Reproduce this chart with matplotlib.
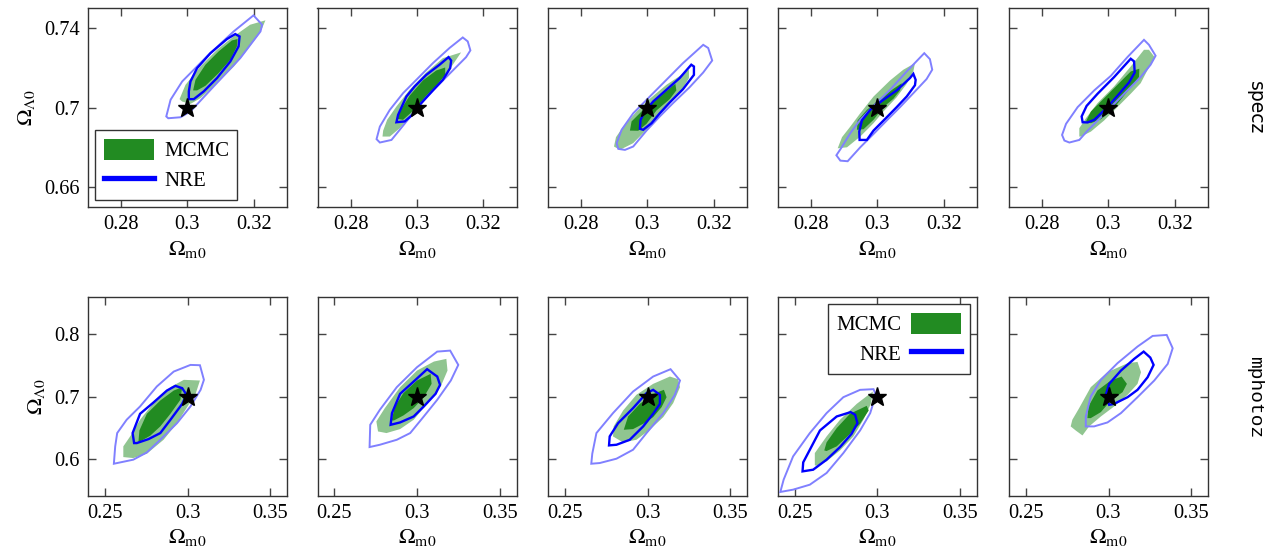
import numpy as np
import matplotlib
matplotlib.use('Agg')
import matplotlib.pyplot as plt
from matplotlib.patches import Polygon, Patch
from matplotlib.lines import Line2D

plt.rcParams['font.family'] = 'Liberation Serif'
plt.rcParams['mathtext.fontset'] = 'stix'

# valor verdadeiro dos parametros
truth = (0.3, 0.7)
row_names = ['specz', 'mphotoz']
row_fonts = ['DejaVu Sans', 'Liberation Mono']

xticks_top = [0.28, 0.3, 0.32]
yticks_top = [0.66, 0.7, 0.74]
xlim_top = (0.27, 0.33)
ylim_top = (0.65, 0.75)
xticks_bot = [0.25, 0.3, 0.35]
yticks_bot = [0.6, 0.7, 0.8]
xlim_bot = (0.24, 0.36)
ylim_bot = (0.54, 0.86)

# MCMC: regiao 95% (verde claro)
mcmc_outer = [
  [(0.2976,0.7042),(0.2994,0.7114),(0.3039,0.7206),(0.3089,0.7290),(0.3139,0.7357),(0.3189,0.7416),(0.3235,0.7438),
   (0.3225,0.7399),(0.3210,0.7357),(0.3180,0.7290),(0.3140,0.7206),(0.3089,0.7122),(0.3039,0.7047),(0.3009,0.7018),(0.2984,0.7030)],
  [(0.2896,0.6854),(0.2898,0.6884),(0.2910,0.6938),(0.2938,0.7005),(0.2978,0.7089),(0.3028,0.7176),(0.3078,0.7248),(0.3133,0.7277),
   (0.3118,0.7240),(0.3098,0.7190),(0.3068,0.7122),(0.3028,0.7047),(0.2988,0.6971),(0.2948,0.6896),(0.2918,0.6854)],
  [(0.2899,0.6804),(0.2905,0.6851),(0.2927,0.6904),(0.2967,0.6980),(0.3007,0.7044),(0.3057,0.7114),(0.3107,0.7169),(0.3125,0.7190),
   (0.3125,0.7148),(0.3107,0.7097),(0.3077,0.7039),(0.3037,0.6963),(0.2997,0.6888),(0.2957,0.6821),(0.2917,0.6787)],
  [(0.2880,0.6795),(0.2893,0.6851),(0.2918,0.6904),(0.2948,0.6971),(0.2988,0.7055),(0.3038,0.7136),(0.3078,0.7190),(0.3113,0.7223),
   (0.3108,0.7181),(0.3088,0.7119),(0.3058,0.7052),(0.3018,0.6980),(0.2988,0.6921),(0.2948,0.6854),(0.2908,0.6800)],
  [(0.2912,0.6854),(0.2912,0.6896),(0.2932,0.6946),(0.2967,0.7022),(0.3017,0.7106),(0.3067,0.7206),(0.3107,0.7290),(0.3122,0.7290),
   (0.3139,0.7253),(0.3117,0.7186),(0.3097,0.7122),(0.3067,0.7069),(0.3027,0.7002),(0.2987,0.6935),(0.2947,0.6879),(0.2917,0.6854)],
  [(0.2613,0.6026),(0.2613,0.6198),(0.2657,0.6369),(0.2714,0.6626),(0.2795,0.6893),(0.2897,0.7150),(0.2978,0.7268),(0.3075,0.7257),
   (0.3049,0.7043),(0.2998,0.6829),(0.2937,0.6572),(0.2856,0.6305),(0.2755,0.6080),(0.2673,0.6010)],
  [(0.2765,0.6438),(0.2755,0.6599),(0.2806,0.6813),(0.2898,0.7150),(0.3000,0.7417),(0.3102,0.7562),(0.3177,0.7605),
   (0.3184,0.7417),(0.3143,0.7161),(0.3061,0.6882),(0.2980,0.6626),(0.2898,0.6476),(0.2816,0.6412)],
  [(0.2792,0.6358),(0.2796,0.6519),(0.2853,0.6775),(0.2933,0.7027),(0.3034,0.7203),(0.3135,0.7321),(0.3185,0.7278),
   (0.3196,0.7150),(0.3155,0.6893),(0.3095,0.6668),(0.3014,0.6465),(0.2933,0.6304),(0.2853,0.6262)],
  [(0.2622,0.5893),(0.2622,0.6090),(0.2693,0.6358),(0.2774,0.6626),(0.2875,0.6882),(0.2972,0.7080),
   (0.2960,0.6882),(0.2915,0.6626),(0.2855,0.6358),(0.2774,0.6133),(0.2693,0.5957),(0.2632,0.5887)],
  [(0.2772,0.6519),(0.2782,0.6626),(0.2823,0.6813),(0.2893,0.7150),(0.2994,0.7391),(0.3115,0.7535),(0.3175,0.7556),
   (0.3196,0.7391),(0.3175,0.7203),(0.3115,0.7027),(0.3034,0.6840),(0.2954,0.6679),(0.2883,0.6519),(0.2843,0.6374),(0.2802,0.6454)],
]

# MCMC: regiao 68% (verde escuro)
mcmc_inner = [
  [(0.3017,0.7086),(0.3024,0.7139),(0.3054,0.7215),(0.3094,0.7282),(0.3134,0.7337),(0.3151,0.7344),
   (0.3149,0.7307),(0.3129,0.7240),(0.3094,0.7173),(0.3054,0.7109),(0.3029,0.7086)],
  [(0.2941,0.6943),(0.2948,0.6980),(0.2978,0.7060),(0.3018,0.7136),(0.3058,0.7186),(0.3085,0.7201),
   (0.3085,0.7164),(0.3058,0.7109),(0.3020,0.7039),(0.2988,0.6983),(0.2958,0.6938)],
  [(0.2947,0.6884),(0.2952,0.6930),(0.2987,0.6988),(0.3037,0.7055),(0.3084,0.7119),
   (0.3087,0.7086),(0.3067,0.7042),(0.3027,0.6985),(0.2997,0.6918),(0.2972,0.6883)],
  [(0.2938,0.6888),(0.2940,0.6935),(0.2968,0.6988),(0.3008,0.7044),(0.3048,0.7094),(0.3073,0.7122),
   (0.3068,0.7086),(0.3048,0.7044),(0.3018,0.7002),(0.2988,0.6938),(0.2958,0.6891)],
  [(0.2932,0.6930),(0.2947,0.6980),(0.2987,0.7047),(0.3027,0.7114),(0.3067,0.7181),(0.3093,0.7195),
   (0.3092,0.7153),(0.3067,0.7102),(0.3037,0.7039),(0.3007,0.6980),(0.2977,0.6941),(0.2947,0.6921)],
  [(0.2704,0.6267),(0.2710,0.6454),(0.2755,0.6722),(0.2836,0.6936),(0.2917,0.7096),(0.2968,0.7150),
   (0.2957,0.6947),(0.2897,0.6722),(0.2836,0.6519),(0.2775,0.6369),(0.2714,0.6278)],
  [(0.2847,0.6615),(0.2867,0.6840),(0.2918,0.7054),(0.3000,0.7257),(0.3082,0.7364),
   (0.3088,0.7203),(0.3041,0.6989),(0.2980,0.6813),(0.2918,0.6695),(0.2861,0.6615)],
  [(0.2857,0.6465),(0.2883,0.6679),(0.2954,0.6882),(0.3034,0.7043),(0.3099,0.7107),
   (0.3115,0.6989),(0.3085,0.6829),(0.3034,0.6668),(0.2974,0.6561),(0.2913,0.6476)],
  [(0.2679,0.6133),(0.2693,0.6262),(0.2754,0.6492),(0.2834,0.6722),(0.2935,0.6850),
   (0.2947,0.6775),(0.2895,0.6561),(0.2814,0.6347),(0.2754,0.6198),(0.2693,0.6123)],
  [(0.2873,0.6652),(0.2879,0.6840),(0.2933,0.7096),(0.3014,0.7257),(0.3079,0.7321),
   (0.3111,0.7203),(0.3085,0.7070),(0.3014,0.6936),(0.2954,0.6749),(0.2893,0.6652)],
]

# NRE: contorno 95% (azul claro)
nre_outer = [
  [(0.2936,0.6955),(0.2949,0.7039),(0.2984,0.7131),(0.3059,0.7257),(0.3139,0.7382),(0.3199,0.7463),(0.3225,0.7416),
   (0.3220,0.7382),(0.3159,0.7248),(0.3079,0.7106),(0.3009,0.6980),(0.2979,0.6951),(0.2942,0.6946)],
  [(0.2878,0.6841),(0.2888,0.6904),(0.2918,0.6988),(0.2958,0.7072),(0.2998,0.7139),(0.3048,0.7223),(0.3098,0.7299),(0.3138,0.7352),
   (0.3153,0.7332),(0.3161,0.7287),(0.3148,0.7253),(0.3108,0.7186),(0.3068,0.7119),(0.3028,0.7052),(0.2988,0.6971),(0.2948,0.6888),
   (0.2923,0.6837),(0.2888,0.6824)],
  [(0.2912,0.6792),(0.2907,0.6821),(0.2922,0.6888),(0.2957,0.6971),(0.3007,0.7055),(0.3057,0.7139),(0.3107,0.7223),(0.3168,0.7315),
   (0.3183,0.7299),(0.3195,0.7236),(0.3168,0.7176),(0.3127,0.7102),(0.3077,0.7022),(0.3037,0.6955),(0.2997,0.6884),(0.2957,0.6804),
   (0.2932,0.6787)],
  [(0.2888,0.6733),(0.2876,0.6760),(0.2890,0.6795),(0.2918,0.6871),(0.2948,0.6938),(0.2988,0.7008),(0.3038,0.7089),(0.3088,0.7181),
   (0.3141,0.7273),(0.3158,0.7243),(0.3165,0.7190),(0.3148,0.7143),(0.3108,0.7072),(0.3068,0.7002),(0.3028,0.6935),(0.2988,0.6867),
   (0.2948,0.6800),(0.2910,0.6730)],
  [(0.2867,0.6834),(0.2860,0.6862),(0.2872,0.6918),(0.2907,0.7002),(0.2957,0.7086),(0.3007,0.7159),(0.3057,0.7253),(0.3107,0.7340),
   (0.3122,0.7315),(0.3142,0.7260),(0.3127,0.7215),(0.3097,0.7153),(0.3057,0.7086),(0.3017,0.7018),(0.2977,0.6951),(0.2937,0.6884),
   (0.2912,0.6837),(0.2882,0.6824)],
  [(0.2556,0.5919),(0.2564,0.6197),(0.2576,0.6412),(0.2633,0.6626),(0.2714,0.6840),(0.2815,0.7161),(0.2917,0.7401),(0.3018,0.7508),
   (0.3075,0.7503),(0.3099,0.7268),(0.3079,0.7107),(0.3018,0.6840),(0.2937,0.6572),(0.2836,0.6305),(0.2755,0.6101),(0.2673,0.5984)],
  [(0.2714,0.6187),(0.2718,0.6545),(0.2776,0.6786),(0.2878,0.7150),(0.3000,0.7471),(0.3122,0.7722),(0.3200,0.7738),
   (0.3249,0.7508),(0.3204,0.7257),(0.3122,0.6947),(0.3041,0.6679),(0.2959,0.6412),(0.2878,0.6304),(0.2776,0.6224)],
  [(0.2661,0.5919),(0.2667,0.6080),(0.2692,0.6412),(0.2792,0.6733),(0.2913,0.7080),(0.3034,0.7321),(0.3139,0.7439),
   (0.3196,0.7257),(0.3165,0.7027),(0.3095,0.6733),(0.2994,0.6412),(0.2913,0.6144),(0.2813,0.6000),(0.2712,0.5930)],
  [(0.2414,0.5465),(0.2434,0.5663),(0.2491,0.6037),(0.2592,0.6412),(0.2693,0.6733),(0.2794,0.6989),(0.2895,0.7107),(0.2976,0.7118),
   (0.2990,0.7027),(0.2956,0.6733),(0.2895,0.6454),(0.2794,0.6090),(0.2693,0.5770),(0.2592,0.5582),(0.2491,0.5502)],
  [(0.2863,0.6519),(0.2863,0.6679),(0.2893,0.7000),(0.2954,0.7268),(0.3054,0.7535),(0.3175,0.7803),(0.3266,0.7974),(0.3351,0.7990),
   (0.3387,0.7776),(0.3357,0.7524),(0.3276,0.7257),(0.3175,0.6989),(0.3075,0.6733),(0.2994,0.6583),(0.2913,0.6519)],
]

# NRE: contorno 68% (azul)
nre_inner = [
  [(0.3004,0.7042),(0.3019,0.7042),(0.3049,0.7081),(0.3089,0.7148),(0.3129,0.7231),(0.3154,0.7307),(0.3157,0.7357),
   (0.3144,0.7369),(0.3119,0.7344),(0.3069,0.7273),(0.3029,0.7198),(0.3009,0.7131),(0.3004,0.7081)],
  [(0.2938,0.6926),(0.2943,0.6963),(0.2968,0.7055),(0.2993,0.7106),(0.3028,0.7164),(0.3068,0.7215),(0.3095,0.7253),
   (0.3103,0.7236),(0.3100,0.7198),(0.3078,0.7139),(0.3048,0.7086),(0.3008,0.7013),(0.2986,0.6963),(0.2963,0.6930)],
  [(0.2977,0.6893),(0.2979,0.6938),(0.2992,0.6980),(0.3017,0.7030),(0.3057,0.7089),(0.3097,0.7148),(0.3132,0.7215),
   (0.3140,0.7206),(0.3140,0.7164),(0.3107,0.7092),(0.3067,0.7025),(0.3037,0.6971),(0.3012,0.6921),(0.2987,0.6888)],
  [(0.2946,0.6837),(0.2945,0.6879),(0.2953,0.6935),(0.2978,0.6988),(0.3018,0.7039),(0.3058,0.7086),(0.3098,0.7148),(0.3108,0.7169),
   (0.3115,0.7139),(0.3113,0.7112),(0.3088,0.7055),(0.3058,0.7002),(0.3028,0.6951),(0.2988,0.6884),(0.2968,0.6837)],
  [(0.2922,0.6926),(0.2919,0.6955),(0.2934,0.7008),(0.2967,0.7069),(0.3017,0.7153),(0.3067,0.7245),
   (0.3077,0.7232),(0.3079,0.7176),(0.3062,0.7126),(0.3027,0.7059),(0.2997,0.7002),(0.2957,0.6938),(0.2937,0.6925)],
  [(0.2678,0.6251),(0.2669,0.6412),(0.2714,0.6722),(0.2795,0.6904),(0.2876,0.7096),(0.2927,0.7171),
   (0.2968,0.7134),(0.2994,0.7027),(0.2968,0.6882),(0.2897,0.6626),(0.2836,0.6412),(0.2765,0.6315),(0.2694,0.6251)],
  [(0.2841,0.6545),(0.2849,0.6732),(0.2898,0.7043),(0.2980,0.7241),(0.3061,0.7439),
   (0.3122,0.7321),(0.3139,0.7187),(0.3112,0.7043),(0.3041,0.6840),(0.2980,0.6679),(0.2898,0.6583)],
  [(0.2768,0.6214),(0.2772,0.6358),(0.2823,0.6572),(0.2913,0.6813),(0.2994,0.7054),(0.3034,0.7107),
   (0.3075,0.7027),(0.3075,0.6882),(0.3034,0.6722),(0.2974,0.6519),(0.2893,0.6304),(0.2813,0.6224)],
  [(0.2548,0.5796),(0.2552,0.5941),(0.2592,0.6144),(0.2653,0.6454),(0.2754,0.6679),(0.2838,0.6749),
   (0.2865,0.6706),(0.2879,0.6572),(0.2844,0.6401),(0.2774,0.6187),(0.2693,0.5984),(0.2612,0.5823)],
  [(0.3004,0.6866),(0.2984,0.7027),(0.3004,0.7203),(0.3075,0.7417),(0.3155,0.7605),(0.3212,0.7722),
   (0.3252,0.7626),(0.3272,0.7508),(0.3236,0.7310),(0.3175,0.7107),(0.3115,0.6989),(0.3034,0.6882)],
]

dark_green = '#228b22'
light_green = '#90c590'
blue = '#0000ff'
light_blue = '#8080ff'

fig = plt.figure(figsize=(12.71, 5.53), dpi=100)
lefts = [88, 317.5, 548, 778, 1009]
tops = [8, 297]
W, H = 1271., 553.

for k in range(10):
  r, c = divmod(k, 5)
  ax = fig.add_axes([lefts[c]/W, 1 - (tops[r] + 199)/H, 199/W, 199/H])
  ax.add_patch(Polygon(mcmc_outer[k], closed=True, facecolor=light_green, edgecolor='none', zorder=1))
  ax.add_patch(Polygon(mcmc_inner[k], closed=True, facecolor=dark_green, edgecolor='none', zorder=2))
  ax.add_patch(Polygon(nre_outer[k], closed=True, fill=False, edgecolor=light_blue, lw=1.4, zorder=3))
  ax.add_patch(Polygon(nre_inner[k], closed=True, fill=False, edgecolor=blue, lw=1.7, zorder=4))
  ax.plot(truth[0], truth[1], marker='*', color='black', ms=14, zorder=5)
  if r == 0:
    ax.set_xlim(*xlim_top); ax.set_ylim(*ylim_top)
    ax.set_xticks(xticks_top); ax.set_xticklabels(['0.28', '0.3', '0.32'])
    ax.set_yticks(yticks_top); ax.set_yticklabels(['0.66', '0.7', '0.74'])
  else:
    ax.set_xlim(*xlim_bot); ax.set_ylim(*ylim_bot)
    ax.set_xticks(xticks_bot); ax.set_xticklabels(['0.25', '0.3', '0.35'])
    ax.set_yticks(yticks_bot); ax.set_yticklabels(['0.6', '0.7', '0.8'])
  ax.tick_params(direction='in', length=6, width=1, color='#444444', top=True, right=True,
                 labelsize=14.7, pad=6)
  for s in ax.spines.values():
    s.set_color('#333333')
    s.set_linewidth(1)
  ax.set_xlabel(r'$\Omega_{\rm m0}$', fontsize=16, labelpad=3)
  if c == 0:
    ax.set_ylabel(r'$\Omega_{\Lambda 0}$', fontsize=16, labelpad=5)
  else:
    ax.set_yticklabels([])
  handles = [Patch(facecolor=dark_green, edgecolor='none'), Line2D([], [], color=blue, lw=3.8)]
  if k == 0:
    leg = ax.legend(handles, ['MCMC', 'NRE'], loc='lower left', fontsize=15, fancybox=False,
                    edgecolor='#333333', framealpha=1, handlelength=2.4, handleheight=1.2,
                    borderaxespad=0.35, labelspacing=0.35, handletextpad=0.5)
    leg.get_frame().set_linewidth(1)
  if k == 8:
    leg = ax.legend(handles, ['MCMC', 'NRE'], loc='upper right', fontsize=15, fancybox=False,
                    edgecolor='#333333', framealpha=1, handlelength=2.4, handleheight=1.2,
                    markerfirst=False, borderaxespad=0.35, labelspacing=0.35, handletextpad=0.5)
    leg.get_frame().set_linewidth(1)

fig.text(1255/W, 1 - 108/H, row_names[0], rotation=270, va='center', ha='center',
         fontsize=13.5, family=row_fonts[0])
fig.text(1255/W, 1 - 397/H, row_names[1], rotation=270, va='center', ha='center',
         fontsize=14, family=row_fonts[1])

fig.savefig('out.png', dpi=100)
